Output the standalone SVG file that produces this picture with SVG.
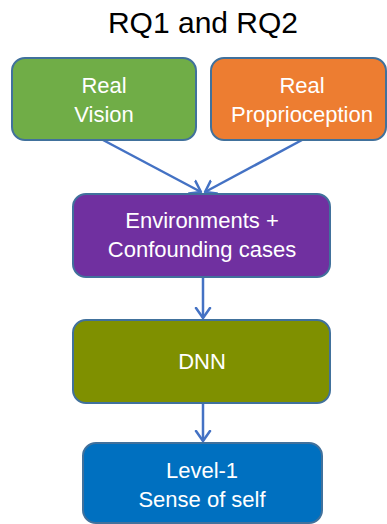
<svg xmlns="http://www.w3.org/2000/svg" width="387" height="524" viewBox="0 0 387 524">
<style>
.box{stroke:#41719C;stroke-width:2}
.lbl{font-family:"Liberation Sans",Arial,sans-serif;font-size:22px;fill:#FFFFFF;text-anchor:middle}
.title{font-family:"Liberation Sans",Arial,sans-serif;font-size:30px;fill:#000000;text-anchor:middle}
.conn{stroke:#4472C4;stroke-width:2.5;fill:none;marker-end:url(#arr)}
</style>
<defs>
<marker id="arr" markerUnits="userSpaceOnUse" markerWidth="16" markerHeight="18" refX="11" refY="8" orient="auto" viewBox="0 0 16 16">
<path d="M1,1 L11,8 L1,15" fill="none" stroke="#4472C4" stroke-width="2.5" stroke-linecap="round" stroke-linejoin="round"/>
</marker>
</defs>
<rect width="387" height="524" fill="#FFFFFF"/>
<text class="title" x="203" y="33">RQ1 and RQ2</text>
<g id="connectors">
<line class="conn" x1="103" y1="140" x2="201" y2="192"/>
<line class="conn" x1="302" y1="140" x2="205" y2="192"/>
<line class="conn" x1="203" y1="277" x2="203" y2="318"/>
<line class="conn" x1="203" y1="403" x2="203" y2="441"/>
</g>
<g id="real-vision">
<rect class="box" x="12" y="58" width="184" height="82" rx="13" fill="#70AD47"/>
<text class="lbl" x="104" y="93">Real</text>
<text class="lbl" x="104" y="122">Vision</text>
</g>
<g id="real-proprioception">
<rect class="box" x="211" y="58" width="175" height="82" rx="13" fill="#ED7D31"/>
<text class="lbl" x="302" y="93">Real</text>
<text class="lbl" x="302" y="122">Proprioception</text>
</g>
<g id="environments">
<rect class="box" x="73" y="194" width="257" height="83" rx="13" fill="#7030A0"/>
<text class="lbl" x="202" y="228">Environments +</text>
<text class="lbl" x="202" y="257">Confounding cases</text>
</g>
<g id="dnn">
<rect class="box" x="73" y="320" width="257" height="83" rx="13" fill="#7F9000"/>
<text class="lbl" x="202" y="369">DNN</text>
</g>
<g id="level1">
<rect class="box" x="83" y="443" width="239" height="80" rx="13" fill="#0070C0"/>
<text class="lbl" x="202" y="478">Level-1</text>
<text class="lbl" x="202" y="507">Sense of self</text>
</g>
</svg>
